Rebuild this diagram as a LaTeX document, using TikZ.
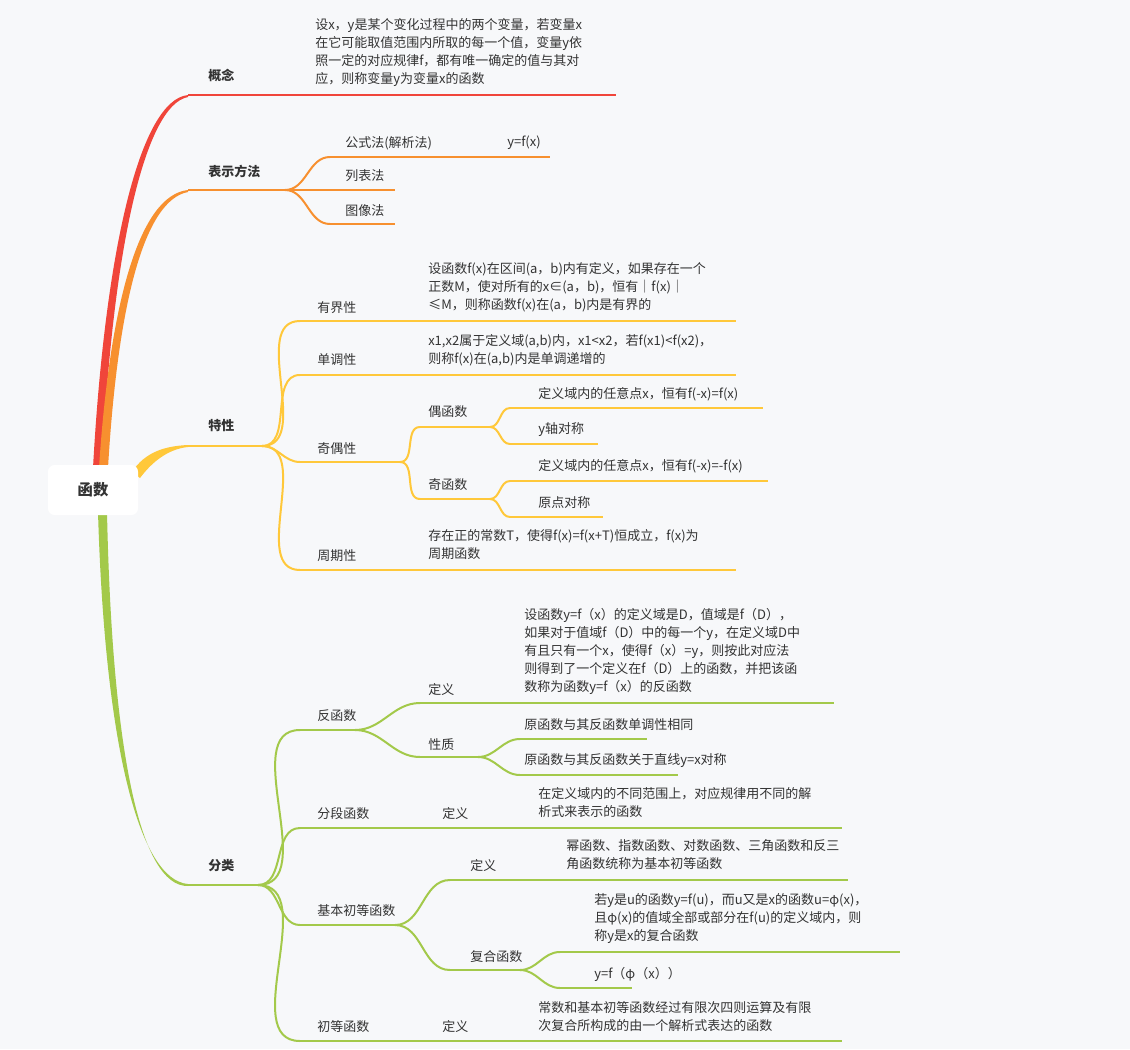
\documentclass[tikz,border=0pt]{standalone}
\usepackage{fontspec}
\setmainfont{Noto Sans CJK SC}
\definecolor{bg}{HTML}{F7F8FA}
\definecolor{cr}{HTML}{F0453A}
\definecolor{co}{HTML}{F7902F}
\definecolor{cy}{HTML}{FFC83A}
\definecolor{cg}{HTML}{A3C94A}
\definecolor{txt}{HTML}{333333}
\newcommand\conn[3]{\draw[#1] (#2) to[out=0,in=180] (#3);}
\begin{document}
\begin{tikzpicture}[x=0.75pt,y=-0.75pt,
  every node/.style={font=\fontsize{9.75}{13.5}\selectfont, text=txt},
  lbl/.style={anchor=west, inner sep=0},
  para/.style={anchor=north west, align=left, inner sep=0},
  lr/.style={draw=cr, line width=1.5pt},
  lo/.style={draw=co, line width=1.5pt},
  ly/.style={draw=cy, line width=1.5pt},
  lg/.style={draw=cg, line width=1.5pt},
  rootbox/.style={fill=white, rounded corners=5pt, minimum width=67.5pt, minimum height=37.5pt, font=\fontsize{11.5}{14}\selectfont\bfseries}]
\fill[bg] (0,0) rectangle (1130,1049);
\useasboundingbox (0,0) rectangle (1130,1049);
% main branches
\fill[cr] (93,468) .. controls (105,250) and (140,100) .. (188,95) -- (188,97) .. controls (145,105) and (112,250) .. (102,468) -- cycle;
\fill[co] (99,468) .. controls (110,300) and (140,195) .. (188,190) -- (188,192) .. controls (145,200) and (118,300) .. (108,468) -- cycle;
\fill[cy] (132,472) .. controls (145,452) and (165,446) .. (188,445) -- (188,447) .. controls (168,449) and (152,462) .. (140,478) -- cycle;
\fill[cg] (98,512) .. controls (105,750) and (140,880) .. (188,884) -- (188,886) .. controls (140,887) and (112,750) .. (107,512) -- cycle;
\node[rootbox] (root) at (93,490) {函数};
% 概念
\coordinate (a0) at (188,95); \coordinate (a1) at (616,95);
\draw[lr] (a0) -- (a1);
\node[lbl] (an) at (208,75) {\bfseries 概念};
\node[para] (ad) at (315,18) {设x，y是某个变化过程中的两个变量，若变量x\\在它可能取值范围内所取的每一个值，变量y依\\照一定的对应规律f，都有唯一确定的值与其对\\应，则称变量y为变量x的函数};
% 表示方法
\coordinate (b0) at (188,190); \coordinate (b1) at (285,190);
\draw[lo] (b0) -- (b1);
\node[lbl] (bn) at (208,171) {\bfseries 表示方法};
\coordinate (b10) at (330,157); \coordinate (b11) at (550,157);
\coordinate (b20) at (330,190); \coordinate (b21) at (395,190);
\coordinate (b30) at (330,224); \coordinate (b31) at (395,224);
\draw[lo] (b10) -- (b11); \draw[lo] (b20) -- (b21); \draw[lo] (b30) -- (b31);
\conn{lo}{b1}{b10}\conn{lo}{b1}{b20}\conn{lo}{b1}{b30}
\node[lbl] (b1n) at (345,143) {公式法(解析法)};
\node[lbl] (b1d) at (507,143) {y=f(x)};
\node[lbl] (b2n) at (345,176) {列表法};
\node[lbl] (b3n) at (345,211) {图像法};
% 特性
\coordinate (c0) at (188,446); \coordinate (c1) at (262,446);
\draw[ly] (c0) -- (c1);
\node[lbl] (cn) at (208,426) {\bfseries 特性};
\coordinate (c10) at (300,321); \coordinate (c11) at (736,321);
\coordinate (c20) at (300,375); \coordinate (c21) at (736,375);
\coordinate (c30) at (300,462); \coordinate (c31) at (400,462);
\coordinate (c40) at (300,570); \coordinate (c41) at (736,570);
\foreach \i in {1,2,3,4} {\draw[ly] (c\i0) -- (c\i1); \conn{ly}{c1}{c\i0}}
\node[lbl] (c1n) at (317,308) {有界性};
\node[para] (c1d) at (428,262) {设函数f(x)在区间(a，b)内有定义，如果存在一个\\正数M，使对所有的x∈(a，b)，恒有｜f(x)｜\\≤M，则称函数f(x)在(a，b)内是有界的};
\node[lbl] (c2n) at (317,360) {单调性};
\node[para] (c2d) at (428,334) {x1,x2属于定义域(a,b)内，x1<x2，若f(x1)<f(x2)，\\则称f(x)在(a,b)内是单调递增的};
\node[lbl] (c3n) at (317,449) {奇偶性};
\node[lbl] (c4n) at (317,556) {周期性};
\node[para] (c4d) at (428,529) {存在正的常数T，使得f(x)=f(x+T)恒成立，f(x)为\\周期函数};
\coordinate (e0) at (420,427); \coordinate (e1) at (490,427);
\coordinate (o0) at (420,499); \coordinate (o1) at (490,499);
\draw[ly] (e0) -- (e1); \draw[ly] (o0) -- (o1);
\conn{ly}{c31}{e0}\conn{ly}{c31}{o0}
\node[lbl] (en) at (428,412) {偶函数};
\node[lbl] (on) at (428,485) {奇函数};
\coordinate (e10) at (510,408); \coordinate (e11) at (763,408);
\coordinate (e20) at (510,444); \coordinate (e21) at (598,444);
\coordinate (o10) at (510,481); \coordinate (o11) at (768,481);
\coordinate (o20) at (510,517); \coordinate (o21) at (603,517);
\draw[ly] (e10) -- (e11); \draw[ly] (e20) -- (e21);
\draw[ly] (o10) -- (o11); \draw[ly] (o20) -- (o21);
\conn{ly}{e1}{e10}\conn{ly}{e1}{e20}\conn{ly}{o1}{o10}\conn{ly}{o1}{o20}
\node[lbl] (e1n) at (538,394) {定义域内的任意点x，恒有f(-x)=f(x)};
\node[lbl] (e2n) at (538,430) {y轴对称};
\node[lbl] (o1n) at (538,466) {定义域内的任意点x，恒有f(-x)=-f(x)};
\node[lbl] (o2n) at (538,503) {原点对称};
% 分类
\coordinate (d0) at (188,885); \coordinate (d1) at (258,885);
\draw[lg] (d0) -- (d1);
\node[lbl] (dn) at (208,866) {\bfseries 分类};
\coordinate (d10) at (300,730); \coordinate (d11) at (355,730);
\coordinate (d20) at (300,828); \coordinate (d21) at (842,828);
\coordinate (d30) at (300,925); \coordinate (d31) at (395,925);
\coordinate (d40) at (300,1041); \coordinate (d41) at (842,1041);
\foreach \i in {1,2,3,4} {\draw[lg] (d\i0) -- (d\i1); \conn{lg}{d1}{d\i0}}
\node[lbl] (d1n) at (317,716) {反函数};
\node[lbl] (d2n) at (317,814) {分段函数};
\node[lbl] (d2m) at (442,814) {定义};
\node[para] (d2d) at (538,787) {在定义域内的不同范围上，对应规律用不同的解\\析式来表示的函数};
\node[lbl] (d3n) at (317,911) {基本初等函数};
\node[lbl] (d4n) at (317,1027) {初等函数};
\node[lbl] (d4m) at (442,1027) {定义};
\node[para] (d4d) at (538,1001) {常数和基本初等函数经过有限次四则运算及有限\\次复合所构成的由一个解析式表达的函数};
% 反函数 children
\coordinate (f10) at (420,703); \coordinate (f11) at (834,703);
\coordinate (f20) at (420,757); \coordinate (f21) at (478,757);
\draw[lg] (f10) -- (f11); \draw[lg] (f20) -- (f21);
\conn{lg}{d11}{f10}\conn{lg}{d11}{f20}
\node[lbl] (f1n) at (428,690) {定义};
\node[para] (f1d) at (524,608) {设函数y=f（x）的定义域是D，值域是f（D），\\如果对于值域f（D）中的每一个y，在定义域D中\\有且只有一个x，使得f（x）=y，则按此对应法\\则得到了一个定义在f（D）上的函数，并把该函\\数称为函数y=f（x）的反函数};
\node[lbl] (f2n) at (428,745) {性质};
\coordinate (g10) at (520,739); \coordinate (g11) at (647,739);
\coordinate (g20) at (520,775); \coordinate (g21) at (678,775);
\draw[lg] (g10) -- (g11); \draw[lg] (g20) -- (g21);
\conn{lg}{f21}{g10}\conn{lg}{f21}{g20}
\node[lbl] (g1n) at (524,725) {原函数与其反函数单调性相同};
\node[lbl] (g2n) at (524,761) {原函数与其反函数关于直线y=x对称};
% 基本初等函数 children
\coordinate (h10) at (450,880); \coordinate (h11) at (848,880);
\coordinate (h20) at (450,970); \coordinate (h21) at (520,970);
\draw[lg] (h10) -- (h11); \draw[lg] (h20) -- (h21);
\conn{lg}{d31}{h10}\conn{lg}{d31}{h20}
\node[lbl] (h1n) at (470,866) {定义};
\node[para] (h1d) at (566,839) {幂函数、指数函数、对数函数、三角函数和反三\\角函数统称为基本初等函数};
\node[lbl] (h2n) at (470,957) {复合函数};
\coordinate (k10) at (560,952); \coordinate (k11) at (900,952);
\coordinate (k20) at (560,988); \coordinate (k21) at (632,988);
\draw[lg] (k10) -- (k11); \draw[lg] (k20) -- (k21);
\conn{lg}{h21}{k10}\conn{lg}{h21}{k20}
\node[para] (k1d) at (594,893) {若y是u的函数y=f(u)，而u又是x的函数u=φ(x)，\\且φ(x)的值域全部或部分在f(u)的定义域内，则\\称y是x的复合函数};
\node[lbl] (k2n) at (594,974) {y=f（φ（x））};
\end{tikzpicture}
\end{document}
